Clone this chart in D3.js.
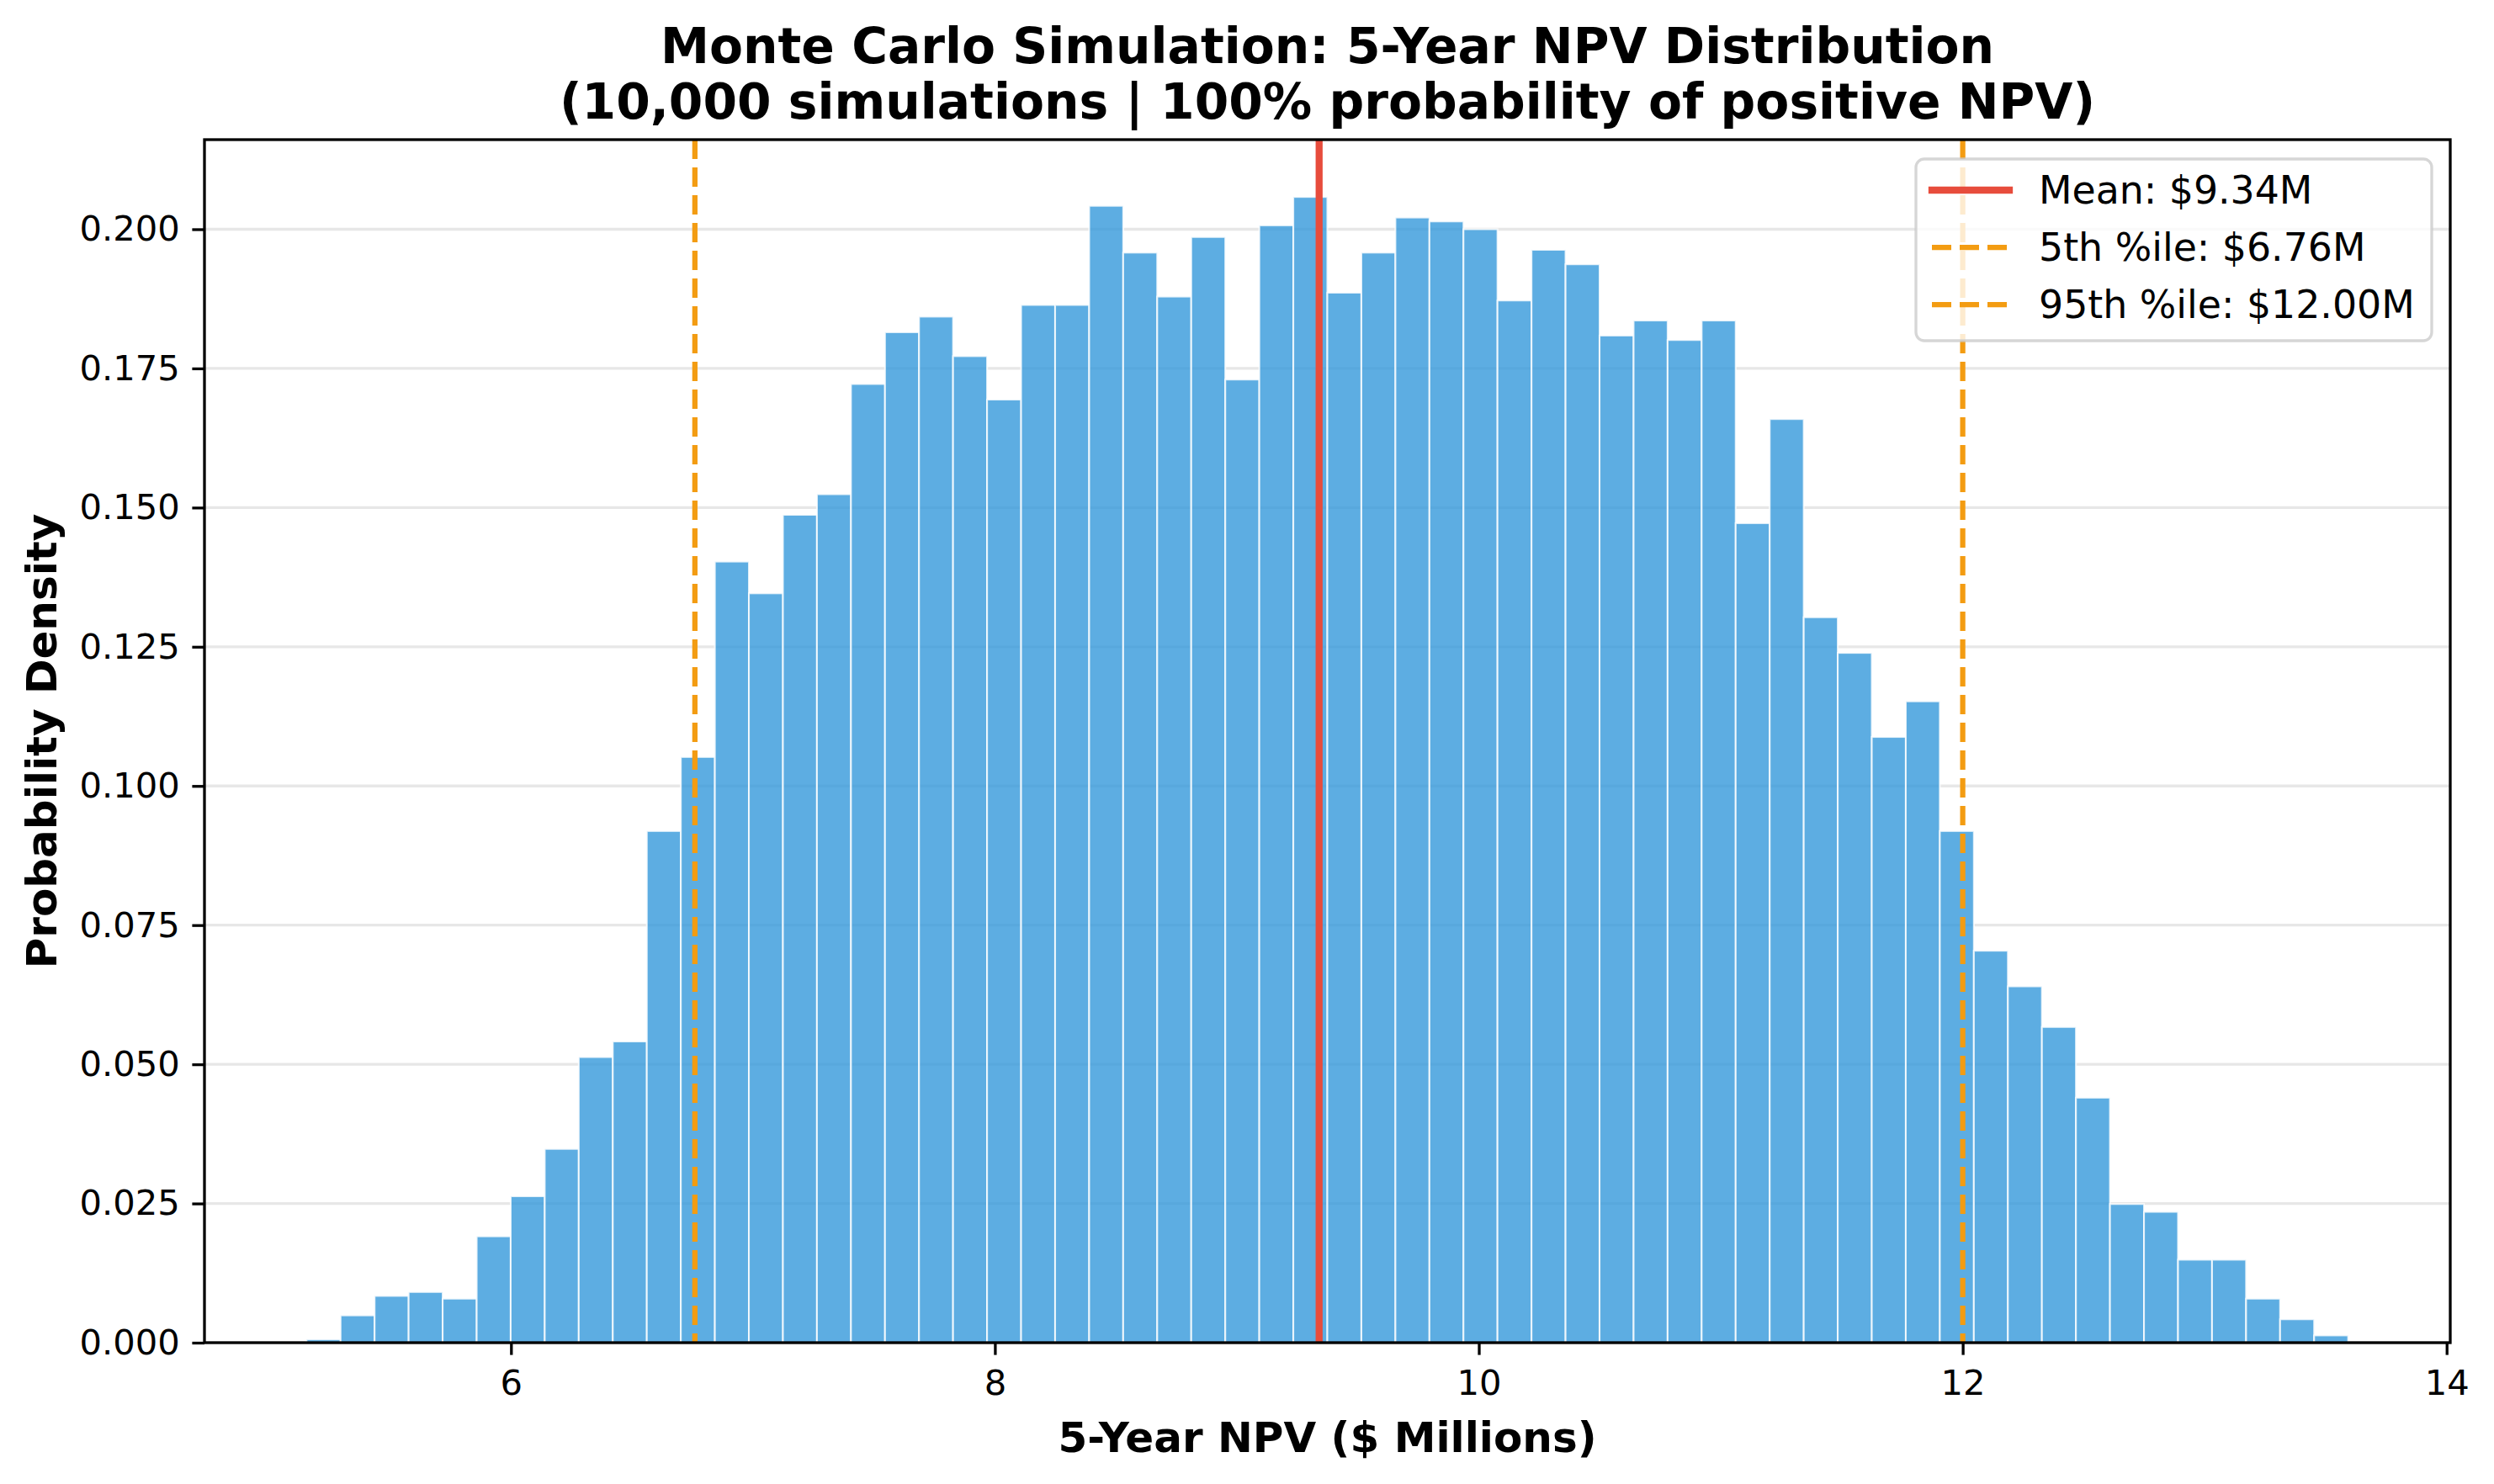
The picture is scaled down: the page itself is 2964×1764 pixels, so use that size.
<!DOCTYPE html>
<html>
<head>
<meta charset="utf-8">
<script src="https://cdn.jsdelivr.net/npm/d3@7"></script>
<style>
  body { margin: 0; background: #fff; }
  svg { display: block; font-family: "DejaVu Sans", sans-serif; }
</style>
</head>
<body>
<svg id="chart" width="2964" height="1764"></svg>
<script>
// histogram: 60 equal bins between the simulated min and max NPV ($M)
const npvMin = 5.155;
const npvMax = 13.593;
const binCount = 60;
const density = [
  0.0006, 0.0049, 0.0084, 0.0091, 0.0079, 0.0191, 0.0263, 0.0348, 0.0513, 0.0541,
  0.0919, 0.1052, 0.1403, 0.1346, 0.1487, 0.1524, 0.1722, 0.1815, 0.1843, 0.1772,
  0.1694, 0.1864, 0.1864, 0.2042, 0.1958, 0.1879, 0.1986, 0.1730, 0.2007, 0.2058,
  0.1886, 0.1958, 0.2021, 0.2014, 0.2000, 0.1872, 0.1963, 0.1937, 0.1809, 0.1836,
  0.1801, 0.1836, 0.1472, 0.1659, 0.1303, 0.1239, 0.1088, 0.1152, 0.0919, 0.0704,
  0.0640, 0.0567, 0.0440, 0.0249, 0.0235, 0.0149, 0.0149, 0.0079, 0.0042, 0.0013
];

const refLabels = ["Mean: $9.34M", "5th %ile: $6.76M", "95th %ile: $12.00M"];
const refValues = [9.34, 6.76, 12.00];
const refKinds = ["mean", "pct", "pct"];

const xTicks = [6, 8, 10, 12, 14];
const yTicks = [0, 0.025, 0.05, 0.075, 0.1, 0.125, 0.15, 0.175, 0.2];

const titleLines = [
  "Monte Carlo Simulation: 5-Year NPV Distribution",
  "(10,000 simulations | 100% probability of positive NPV)"
];

const lineStyle = {
  mean: { color: "#e74c3c", width: 8.3, dash: null },
  pct:  { color: "#f39c12", width: 6.25, dash: "23 10" }
};

const svg = d3.select("#chart");
const margin = { top: 166, right: 52, bottom: 168, left: 243 };
const width = 2964, height = 1764;
const pad = 0.05 * (npvMax - npvMin);

const x = d3.scaleLinear()
  .domain([npvMin - pad, npvMax + pad])
  .range([margin.left, width - margin.right]);

const y = d3.scaleLinear()
  .domain([0, d3.max(density) * 1.05])
  .range([height - margin.bottom, margin.top]);

const binW = (npvMax - npvMin) / binCount;
const bins = density.map((d, i) => ({ x0: npvMin + i * binW, x1: npvMin + (i + 1) * binW, value: d }));

// grid behind bars
svg.append("g")
  .selectAll("line")
  .data(yTicks)
  .join("line")
  .attr("x1", margin.left)
  .attr("x2", width - margin.right)
  .attr("y1", d => y(d))
  .attr("y2", d => y(d))
  .attr("stroke", "#b0b0b0")
  .attr("stroke-opacity", 0.3)
  .attr("stroke-width", 3.3);

svg.append("g")
  .selectAll("rect")
  .data(bins)
  .join("rect")
  .attr("x", d => x(d.x0))
  .attr("y", d => y(d.value))
  .attr("width", d => x(d.x1) - x(d.x0))
  .attr("height", d => y(0) - y(d.value))
  .attr("fill", "#3498db")
  .attr("fill-opacity", 0.8)
  .attr("stroke", "#fff")
  .attr("stroke-opacity", 0.8)
  .attr("stroke-width", 2.1);

// mean / percentile lines
const refs = refValues.map((v, i) => ({ value: v, label: refLabels[i], kind: refKinds[i] }));

svg.append("g")
  .selectAll("line")
  .data(refs)
  .join("line")
  .attr("x1", d => x(d.value))
  .attr("x2", d => x(d.value))
  .attr("y1", margin.top)
  .attr("y2", height - margin.bottom)
  .attr("stroke", d => lineStyle[d.kind].color)
  .attr("stroke-width", d => lineStyle[d.kind].width)
  .attr("stroke-dasharray", d => lineStyle[d.kind].dash);

// axes
const xAxis = svg.append("g")
  .attr("transform", `translate(0,${height - margin.bottom})`)
  .call(d3.axisBottom(x).tickValues(xTicks).tickFormat(d3.format("d")).tickSize(14.6).tickPadding(14.6));

const yAxis = svg.append("g")
  .attr("transform", `translate(${margin.left},0)`)
  .call(d3.axisLeft(y).tickValues(yTicks).tickFormat(d3.format(".3f")).tickSize(14.6).tickPadding(14.6));

[xAxis, yAxis].forEach(g => {
  g.select(".domain").remove();
  g.selectAll(".tick line").attr("stroke", "#000").attr("stroke-width", 3.3);
  g.selectAll(".tick text")
    .attr("fill", "#000")
    .style("font-family", "DejaVu Sans")
    .style("font-size", "41.7px");
});
xAxis.selectAll(".tick text").attr("dy", "0.78em");

svg.append("rect")
  .attr("x", margin.left)
  .attr("y", margin.top)
  .attr("width", width - margin.right - margin.left)
  .attr("height", height - margin.bottom - margin.top)
  .attr("fill", "none")
  .attr("stroke", "#000")
  .attr("stroke-width", 3.3);

// labels
svg.append("text")
  .attr("x", (margin.left + width - margin.right) / 2)
  .attr("y", 1726)
  .attr("text-anchor", "middle")
  .style("font-size", "50px")
  .style("font-weight", "bold")
  .text("5-Year NPV ($ Millions)");

svg.append("text")
  .attr("transform", `translate(67,${(margin.top + height - margin.bottom) / 2}) rotate(-90)`)
  .attr("text-anchor", "middle")
  .style("font-size", "50px")
  .style("font-weight", "bold")
  .text("Probability Density");

svg.append("g")
  .selectAll("text")
  .data(titleLines)
  .join("text")
  .attr("x", (margin.left + width - margin.right) / 2)
  .attr("y", (d, i) => 75 + i * 66)
  .attr("text-anchor", "middle")
  .style("font-size", "58.3px")
  .style("font-weight", "bold")
  .text(d => d);

// legend
const legend = svg.append("g").attr("transform", "translate(2277,189)");

legend.append("rect")
  .attr("width", 613)
  .attr("height", 216)
  .attr("rx", 10)
  .attr("fill", "#fff")
  .attr("fill-opacity", 0.8)
  .attr("stroke", "#cccccc")
  .attr("stroke-opacity", 0.8)
  .attr("stroke-width", 3.3);

const rows = legend.selectAll("g.row")
  .data(refs)
  .join("g")
  .attr("class", "row")
  .attr("transform", (d, i) => `translate(0,${37 + i * 68})`);

rows.append("line")
  .attr("x1", 19)
  .attr("x2", 111)
  .attr("stroke", d => lineStyle[d.kind].color)
  .attr("stroke-width", d => lineStyle[d.kind].width)
  .attr("stroke-dasharray", d => lineStyle[d.kind].dash)
  .attr("stroke-linecap", d => d.kind === "mean" ? "square" : "butt");

rows.append("text")
  .attr("x", 146)
  .attr("y", 16)
  .style("font-size", "45.8px")
  .text(d => d.label);
</script>
</body>
</html>
